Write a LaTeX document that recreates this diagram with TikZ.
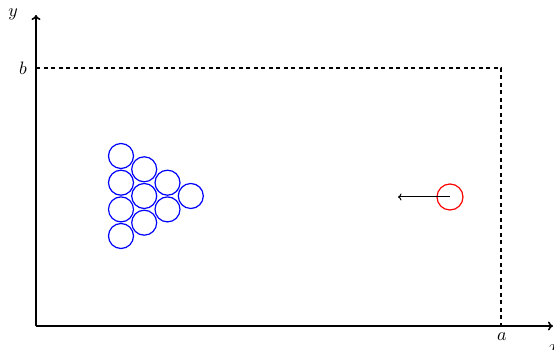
\documentclass[tikz,border=0pt]{standalone}
\usepackage{graphicx}
\usetikzlibrary{arrows.meta}
\newcommand{\biglbl}[1]{\scalebox{1.8}{$#1$}}
\begin{document}
\begin{tikzpicture}[x=1pt,y=1pt,
  axis/.style={line width=1.6pt,-{To[length=5pt,width=9pt]}},
  guide/.style={line width=1.1pt,dash pattern=on 4pt off 3.5pt},
  ball/.style={circle,draw=blue,line width=1.2pt,minimum size=25pt,inner sep=0pt},
  cueball/.style={circle,draw=red,line width=1.2pt,minimum size=26pt,inner sep=0pt},
  lbl/.style={inner sep=0pt}]
\useasboundingbox (0,0) rectangle (554,350);
\coordinate (O) at (36,24);
\coordinate (xend) at (553,24);
\coordinate (yend) at (36,335);
\coordinate (B) at (36,282);
\coordinate (C) at (501,282);
\coordinate (A) at (501,24);
\draw[axis] (O) -- (xend);
\draw[axis] (O) -- (yend);
\draw[guide] (B) -- (C) -- (A);
\node[lbl] (ylab) at (13,335.5) {\biglbl{y}};
\node[lbl] (blab) at (23,282) {\biglbl{b}};
\node[lbl] (alab) at (502,13) {\biglbl{a}};
\node[lbl,anchor=north west] (xlab) at (548.5,5.5) {\biglbl{x}};
% balls
\node[ball] (b1) at (121,194) {};
\node[ball] (b2) at (121,167.3) {};
\node[ball] (b3) at (121,140.6) {};
\node[ball] (b4) at (121,114) {};
\node[ball] (b5) at (144.2,180.7) {};
\node[ball] (b6) at (144.2,154) {};
\node[ball] (b7) at (144.2,127.3) {};
\node[ball] (b8) at (167.5,167.3) {};
\node[ball] (b9) at (167.5,140.6) {};
\node[ball] (b10) at (190.8,154) {};
% cue ball
\node[cueball] (cue) at (450,153) {};
\coordinate (tip) at (398,153);
\draw[line width=1pt,-{To[length=3.5pt,width=7pt]}] (cue.center) -- (tip);
\end{tikzpicture}
\end{document}
